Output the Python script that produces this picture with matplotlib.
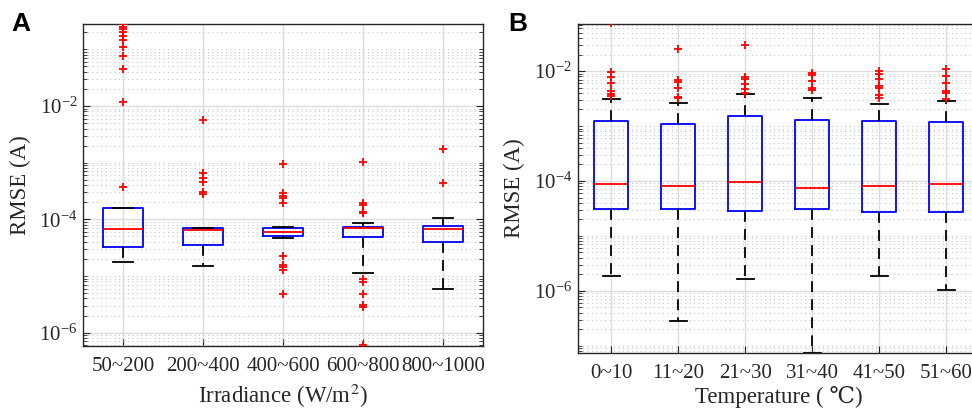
import numpy as np
import matplotlib.pyplot as plt
from matplotlib.ticker import LogLocator, NullFormatter

# ---- panel A: RMSE grouped by irradiance ----
irr_labels = ['50~200', '200~400', '400~600', '600~800', '800~1000']
irr_q1 = [3.29e-5, 3.52e-5, 5.14e-5, 4.82e-5, 4.03e-5]
irr_med = [6.67e-5, 6.47e-5, 5.9e-5, 6.94e-5, 6.67e-5]
irr_q3 = [1.56e-4, 6.94e-5, 7.11e-5, 7.41e-5, 7.53e-5]
irr_lo = [1.74e-5, 1.5e-5, 4.68e-5, 1.14e-5, 5.9e-6]
irr_hi = [1.56e-4, 6.94e-5, 7.2e-5, 8.6e-5, 1.07e-4]
irr_out = [
    [3.67e-4, 1.17e-2, 0.0448, 0.0769, 0.109, 0.1436, 0.171, 0.1986, 0.2244, 0.249, 0.278],
    [5.57e-3, 6.47e-4, 5.42e-4, 4.55e-4, 2.99e-4, 2.79e-4],
    [9.44e-4, 2.94e-4, 2.61e-4, 2.4e-4, 1.92e-4, 2.28e-5, 1.56e-5, 1.42e-5, 1.28e-5, 4.87e-6],
    [1.04e-3, 1.92e-4, 1.79e-4, 1.36e-4, 1.28e-4, 8.75e-6, 7.94e-6, 4.87e-6, 3.08e-6, 2.88e-6, 6.0e-7],
    [1.76e-3, 4.42e-4],
]

# ---- panel B: RMSE grouped by temperature ----
tmp_labels = ['0~10', '11~20', '21~30', '31~40', '41~50', '51~60']
tmp_q1 = [3.12e-5, 3.12e-5, 2.9e-5, 3.12e-5, 2.78e-5, 2.75e-5]
tmp_med = [8.63e-5, 7.94e-5, 9.4e-5, 7.4e-5, 8.04e-5, 8.75e-5]
tmp_q3 = [1.25e-3, 1.07e-3, 1.51e-3, 1.3e-3, 1.21e-3, 1.18e-3]
tmp_lo = [1.9e-6, 2.79e-7, 1.68e-6, 7.5e-8, 1.9e-6, 1.03e-6]
tmp_hi = [3.06e-3, 2.61e-3, 3.81e-3, 3.18e-3, 2.47e-3, 2.89e-3]
tmp_out = [
    [0.074, 9.75e-3, 7.9e-3, 6.15e-3, 4.33e-3, 3.87e-3, 3.51e-3],
    [0.0256, 6.78e-3, 6.4e-3, 4.99e-3, 3.36e-3, 3.18e-3],
    [0.0303, 7.9e-3, 7.06e-3, 5.73e-3, 4.64e-3, 4.05e-3],
    [9.08e-3, 8.4e-3, 6.58e-3, 4.99e-3, 4.5e-3],
    [0.0100, 8.7e-3, 7.06e-3, 5.33e-3, 5.0e-3, 3.66e-3, 3.28e-3],
    [0.0111, 8.1e-3, 5.96e-3, 4.33e-3, 4.05e-3, 3.06e-3],
]

plt.rcParams['font.family'] = ['Liberation Serif', 'DejaVu Serif']
plt.rcParams['mathtext.fontset'] = 'stix'


def draw_panel(ax, labels, q1, med, q3, lo, hi, out, ylim):
    stats = []
    for i in range(len(labels)):
        stats.append(dict(q1=q1[i], med=med[i], q3=q3[i], whislo=lo[i],
                          whishi=hi[i], fliers=out[i], label=labels[i]))
    ax.bxp(stats, widths=0.5, showfliers=True,
           boxprops=dict(color='#0000ff', linewidth=1.3),
           medianprops=dict(color='#ff0000', linewidth=1.3),
           whiskerprops=dict(color='black', linewidth=1.3, linestyle=(0, (6, 4))),
           capprops=dict(color='black', linewidth=1.3),
           capwidths=0.25,
           flierprops=dict(marker='+', markeredgecolor='#ff0000', markersize=6,
                           markeredgewidth=1.3, linestyle='none'),
           zorder=3)
    ax.set_yscale('log')
    ax.set_ylim(ylim)
    ax.set_xlim(0.5, len(labels) + 0.5)
    ax.yaxis.set_major_locator(LogLocator(base=100))
    ax.yaxis.set_minor_locator(LogLocator(base=10, subs=np.arange(1, 10), numticks=30))
    ax.yaxis.set_minor_formatter(NullFormatter())
    ax.grid(True, which='major', color='#dcdcdc', linewidth=1.0, linestyle='-', zorder=0)
    ax.grid(True, which='minor', axis='y', color='#c8c8c8', linewidth=0.8,
            linestyle=(0, (1, 3)), zorder=0)
    ax.tick_params(which='both', direction='in', left=True, right=True, top=False,
                   bottom=True, labelsize=15, colors='#262626')
    ax.tick_params(axis='x', pad=8)
    ax.tick_params(axis='y', pad=4)
    ax.tick_params(which='major', length=5)
    ax.tick_params(which='minor', length=3)
    for s in ax.spines.values():
        s.set_color('#262626')
        s.set_linewidth(1.0)
    ax.set_axisbelow(True)
    ax.set_ylabel('RMSE (A)', fontsize=16.5, color='#262626', labelpad=6)


fig = plt.figure(figsize=(9.72, 4.12), dpi=100)
axA = fig.add_axes([0.0854, 0.1602, 0.4115, 0.7816])
axB = fig.add_axes([0.5943, 0.1439, 0.4136, 0.7978])

draw_panel(axA, irr_labels, irr_q1, irr_med, irr_q3, irr_lo, irr_hi, irr_out, (5.8e-7, 0.28))
axA.set_xlabel('Irradiance (W/m$^2$)', fontsize=16.5, color='#262626', labelpad=4)

draw_panel(axB, tmp_labels, tmp_q1, tmp_med, tmp_q3, tmp_lo, tmp_hi, tmp_out, (7.5e-8, 0.0718))
axB.set_xlabel('Temperature ( \u2103)', fontsize=16.5, color='#262626', labelpad=2)

fig.text(0.012, 0.971, 'A', fontsize=19, fontweight='bold', family='Liberation Sans', va='top')
fig.text(0.523, 0.971, 'B', fontsize=19, fontweight='bold', family='Liberation Sans', va='top')

fig.savefig('out.png', dpi=100)
